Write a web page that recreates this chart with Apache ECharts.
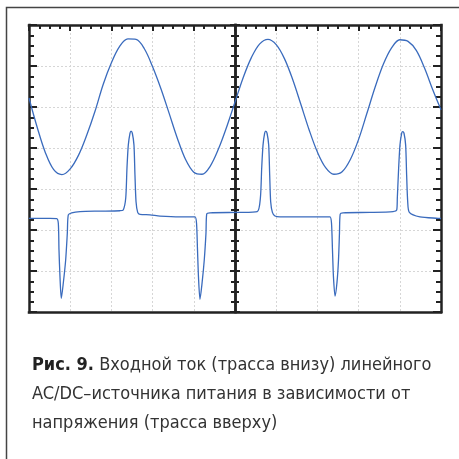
<!DOCTYPE html>
<html>
<head>
<meta charset="utf-8">
<script src="https://cdn.jsdelivr.net/npm/echarts@6/dist/echarts.min.js"></script>
<style>
html,body{margin:0;padding:0;background:#fff;}
#c{width:459px;height:459px;}
</style>
</head>
<body>
<div id="c"></div>
<script>
// time in ms (5 ms/div), amplitude in screen divisions (0..7)
const voltageTime = [0,1,2,3,4,5,6,7,8,9,10,11,12,13,14,15,16,17,18,19,20,21,22,23,24,25,26,27,28,29,30,31,32,33,34,35,36,37,38,39,40,41,42,43,44,45,46,47,48,49,50];
const voltageValue = [5.22,4.50,3.88,3.47,3.35,3.49,3.82,4.31,4.89,5.55,6.08,6.48,6.66,6.65,6.42,5.98,5.45,4.85,4.24,3.72,3.41,3.36,3.56,3.98,4.52,5.12,5.72,6.21,6.54,6.65,6.52,6.18,5.67,5.06,4.44,3.90,3.52,3.36,3.42,3.72,4.21,4.84,5.48,6.04,6.44,6.64,6.60,6.38,5.95,5.42,4.93];

const currentTime = [0, 2.55, 3.36, 3.56, 3.64, 3.76, 3.92, 4.16, 4.45, 4.65, 4.77, 5.18, 6.19, 8.62, 11.04, 11.44, 11.74, 11.89, 12.05, 12.26, 12.38, 12.54, 12.74, 12.86, 12.99, 13.19, 13.47, 14.68, 15.90, 18.33, 19.87, 20.15, 20.33, 20.45, 20.57, 20.75, 20.99, 21.27, 21.48, 21.57, 21.97, 25.61, 27.70, 28.08, 28.24, 28.40, 28.60, 28.73, 28.89, 29.09, 29.21, 29.33, 29.54, 29.85, 30.46, 36.13, 36.53, 36.71, 36.83, 36.95, 37.14, 37.38, 37.56, 37.68, 37.77, 38.11, 41.38, 44.18, 44.63, 44.70, 44.86, 45.02, 45.23, 45.35, 45.51, 45.71, 45.83, 45.96, 46.16, 47.45, 49.64, 50];
const currentValue = [2.285, 2.285, 2.28, 2.16, 1.51, 0.86, 0.33, 0.70, 1.27, 1.92, 2.37, 2.42, 2.45, 2.46, 2.47, 2.49, 2.78, 3.51, 4.07, 4.36, 4.41, 4.36, 4.07, 3.34, 2.69, 2.43, 2.38, 2.37, 2.34, 2.32, 2.32, 2.32, 2.17, 1.51, 0.85, 0.31, 0.68, 1.27, 1.93, 2.39, 2.42, 2.43, 2.45, 2.78, 3.51, 4.07, 4.36, 4.41, 4.36, 4.07, 3.34, 2.69, 2.43, 2.34, 2.32, 2.32, 2.32, 2.17, 1.51, 0.85, 0.39, 0.73, 1.27, 1.93, 2.39, 2.42, 2.43, 2.45, 2.49, 2.78, 3.51, 4.07, 4.36, 4.40, 4.36, 4.07, 3.34, 2.69, 2.43, 2.32, 2.285, 2.28];

const xRange = [0, 50], xStep = 5;
const yRange = [0, 7], yStep = 1;

const captionBold = 'Рис. 9.';
const captionLines = [
  'Входной ток (трасса внизу) линейного',
  'AC/DC–источника питания в зависимости от',
  'напряжения (трасса вверху)'
];

const zip = (a, b) => a.map((v, i) => [v, b[i]]);

const FRAME = '#222';
const FONT = "'Liberation Sans Narrow','DejaVu Sans Condensed','Roboto Condensed',sans-serif";

function baseAxis(extra) {
  return Object.assign({
    type: 'value',
    axisLabel: { show: false },
    axisLine: { show: true, onZero: false, lineStyle: { color: FRAME, width: 2.5, cap: 'square' } },
    axisTick: { show: false },
    minorTick: { show: false },
    splitLine: { show: false }
  }, extra);
}
const gridLine = { show: true, lineStyle: { color: '#d6d6d6', width: 1, type: [2, 2] } };

const xCommon = { min: xRange[0], max: xRange[1], interval: xStep };
const yCommon = { min: yRange[0], max: yRange[1], interval: yStep };

const chart = echarts.init(document.getElementById('c'), null, { renderer: 'canvas' });
chart.setOption({
  animation: false,
  backgroundColor: '#fff',
  title: {
    left: 32, top: 351, padding: 0,
    text: '{b|' + captionBold + '} {r|' + captionLines[0] + '}\n{r|' + captionLines[1] + '}\n{r|' + captionLines[2] + '}',
    textStyle: {
      fontFamily: FONT, fontSize: 18, fontWeight: 'normal', lineHeight: 29, color: '#333',
      rich: {
        b: { fontFamily: FONT, fontSize: 18, fontWeight: 'bold', color: '#222', lineHeight: 29 },
        r: { fontFamily: FONT, fontSize: 18, fontWeight: 'normal', color: '#333', lineHeight: 29 }
      }
    }
  },
  graphic: [{
    type: 'rect', silent: true,
    shape: { x: 6.5, y: 7.5, width: 520, height: 520 },
    style: { fill: 'none', stroke: '#444', lineWidth: 1.5 }
  }],
  grid: { left: 29, right: 18, top: 25, bottom: 147 },
  xAxis: [
    baseAxis(Object.assign({ position: 'bottom', splitLine: gridLine }, xCommon)),
    baseAxis(Object.assign({ position: 'top',
      axisTick: { show: true, inside: true, length: 6, lineStyle: { color: FRAME, width: 2 } },
      minorTick: { show: true, splitNumber: 4, length: 4, lineStyle: { color: FRAME, width: 2 } }
    }, xCommon))
  ],
  yAxis: [
    baseAxis(Object.assign({ position: 'left', splitLine: gridLine,
      axisTick: { show: true, inside: true, length: 8, lineStyle: { color: FRAME, width: 2 } },
      minorTick: { show: true, splitNumber: 4, length: 5, lineStyle: { color: FRAME, width: 2 } }
    }, yCommon)),
    baseAxis(Object.assign({ position: 'right',
      axisTick: { show: true, inside: true, length: 8, lineStyle: { color: FRAME, width: 2 } },
      minorTick: { show: true, splitNumber: 4, length: 5, lineStyle: { color: FRAME, width: 2 } }
    }, yCommon)),
    baseAxis(Object.assign({ position: 'left', offset: -206,
      axisTick: { show: true, inside: true, length: 5, lineStyle: { color: FRAME, width: 2 } },
      minorTick: { show: true, splitNumber: 4, length: 4, lineStyle: { color: FRAME, width: 2 } }
    }, yCommon)),
    baseAxis(Object.assign({ position: 'right', offset: -206,
      axisTick: { show: true, inside: true, length: 5, lineStyle: { color: FRAME, width: 2 } },
      minorTick: { show: true, splitNumber: 4, length: 4, lineStyle: { color: FRAME, width: 2 } }
    }, yCommon))
  ],
  series: [
    {
      name: 'voltage', type: 'line', xAxisIndex: 0, yAxisIndex: 0,
      data: zip(voltageTime, voltageValue),
      smooth: 0.35, showSymbol: false, clip: true,
      lineStyle: { color: '#3a6bbd', width: 1.3 }, z: 1
    },
    {
      name: 'current', type: 'line', xAxisIndex: 0, yAxisIndex: 0,
      data: zip(currentTime, currentValue),
      smooth: 0.25, showSymbol: false, clip: true,
      lineStyle: { color: '#3a6bbd', width: 1.3 }, z: 1
    }
  ]
});
</script>
</body>
</html>
